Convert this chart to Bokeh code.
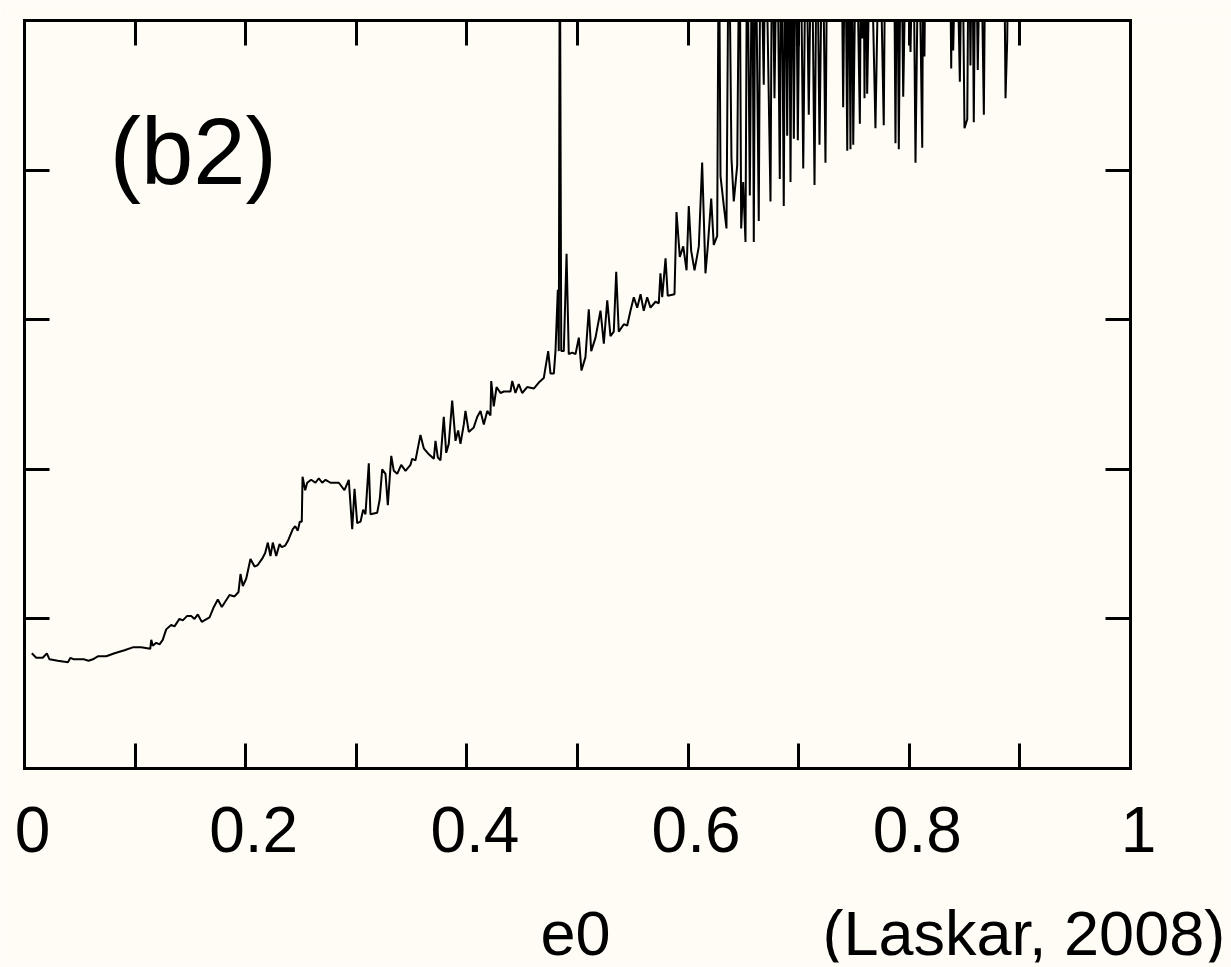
from bokeh.plotting import figure
from bokeh.models import FixedTicker, LinearAxis, Label, CustomJSTickFormatter, Range1d
from bokeh.core.properties import value
from bokeh.embed import file_html
from bokeh.resources import INLINE

# ---- data (values above 5 lie beyond the top of the frame) ----
e0 = [
    0.0066, 0.0106, 0.0165, 0.0202, 0.0226, 0.0301, 0.0392, 0.0416, 0.0446, 0.0497,
    0.0536, 0.0579, 0.0618, 0.0663, 0.0739, 0.0814, 0.0904, 0.0979, 0.1055, 0.1137,
    0.1146, 0.1160, 0.1191, 0.1221, 0.1250, 0.1281, 0.1326, 0.1356, 0.1401, 0.1431,
    0.1471, 0.1507, 0.1537, 0.1567, 0.1603, 0.1673, 0.1712, 0.1748, 0.1784, 0.1854,
    0.1899, 0.1935, 0.1953, 0.1974, 0.2005, 0.2043, 0.2080, 0.2109, 0.2155, 0.2176,
    0.2200, 0.2224, 0.2245, 0.2276, 0.2306, 0.2326, 0.2357, 0.2381, 0.2426, 0.2448,
    0.2471, 0.2489, 0.2507, 0.2514, 0.2538, 0.2556, 0.2592, 0.2631, 0.2661, 0.2692,
    0.2722, 0.2767, 0.2842, 0.2893, 0.2932, 0.2963, 0.2984, 0.3008, 0.3038, 0.3062,
    0.3083, 0.3113, 0.3128, 0.3189, 0.3212, 0.3234, 0.3264, 0.3285, 0.3316, 0.3339,
    0.3370, 0.3406, 0.3445, 0.3490, 0.3505, 0.3535, 0.3580, 0.3610, 0.3656, 0.3701,
    0.3716, 0.3737, 0.3761, 0.3791, 0.3813, 0.3836, 0.3867, 0.3897, 0.3921, 0.3942,
    0.3972, 0.3987, 0.4017, 0.4062, 0.4093, 0.4123, 0.4153, 0.4184, 0.4213, 0.4220,
    0.4243, 0.4268, 0.4304, 0.4334, 0.4394, 0.4410, 0.4439, 0.4469, 0.4500, 0.4545,
    0.4605, 0.4650, 0.4695, 0.4735, 0.4756, 0.4786, 0.4801, 0.4822, 0.4831, 0.4840,
    0.4853, 0.4876, 0.4901, 0.4921, 0.4952, 0.4982, 0.5012, 0.5036, 0.5072, 0.5102,
    0.5124, 0.5163, 0.5208, 0.5238, 0.5269, 0.5298, 0.5328, 0.5350, 0.5373, 0.5419,
    0.5449, 0.5479, 0.5509, 0.5540, 0.5570, 0.5599, 0.5630, 0.5660, 0.5705, 0.5735,
    0.5750, 0.5766, 0.5796, 0.5816, 0.5877, 0.5895, 0.5925, 0.5956, 0.5986, 0.6006,
    0.6028, 0.6058, 0.6097, 0.6127, 0.6157, 0.6178, 0.6209, 0.6232, 0.6263, 0.6278,
    0.6293, 0.6323, 0.6347, 0.6368, 0.6392, 0.6413, 0.6444, 0.6465, 0.6480, 0.6498,
    0.6519, 0.6534, 0.6558, 0.6580, 0.6594, 0.6609, 0.6639, 0.6655, 0.6684, 0.6700,
    0.6745, 0.6760, 0.6781, 0.6805, 0.6829, 0.6844, 0.6865, 0.6880, 0.6896, 0.6911,
    0.6926, 0.6941, 0.6956, 0.6974, 0.6992, 0.7015, 0.7041, 0.7066, 0.7091, 0.7117,
    0.7143, 0.7165, 0.7188, 0.7215, 0.7242, 0.7260, 0.7385, 0.7402, 0.7420, 0.7439,
    0.7453, 0.7468, 0.7480, 0.7493, 0.7520, 0.7553, 0.7565, 0.7575, 0.7585, 0.7595,
    0.7607, 0.7619, 0.7650, 0.7694, 0.7730, 0.7769, 0.7785, 0.7860, 0.7875, 0.7890,
    0.7905, 0.7925, 0.7945, 0.7975, 0.8011, 0.8035, 0.8056, 0.8085, 0.8117, 0.8127,
    0.8137, 0.8150, 0.8365, 0.8379, 0.8388, 0.8397, 0.8425, 0.8457, 0.8478, 0.8499,
    0.8524, 0.8538, 0.8553, 0.8568, 0.8583, 0.8600, 0.8619, 0.8645, 0.8674, 0.8690,
    0.8855, 0.8870, 0.8885, 0.8900,
]
lyap = [
    0.77, 0.74, 0.74, 0.77, 0.73, 0.72, 0.71, 0.74, 0.73, 0.73,
    0.73, 0.72, 0.73, 0.75, 0.75, 0.77, 0.79, 0.81, 0.81, 0.80,
    0.86, 0.82, 0.84, 0.83, 0.86, 0.93, 0.96, 0.95, 1.00, 0.99,
    1.02, 1.02, 1.00, 1.03, 0.98, 1.01, 1.08, 1.13, 1.08, 1.16,
    1.15, 1.18, 1.30, 1.22, 1.27, 1.40, 1.35, 1.36, 1.41, 1.44,
    1.51, 1.42, 1.51, 1.42, 1.50, 1.48, 1.49, 1.52, 1.60, 1.62,
    1.59, 1.65, 1.65, 1.95, 1.86, 1.91, 1.93, 1.91, 1.94, 1.91,
    1.93, 1.91, 1.91, 1.86, 1.93, 1.60, 1.87, 1.64, 1.65, 1.73,
    1.70, 2.04, 1.70, 1.71, 1.80, 2.00, 1.97, 1.76, 2.09, 1.99,
    1.97, 2.03, 1.99, 2.03, 2.07, 2.06, 2.23, 2.14, 2.10, 2.07,
    2.19, 2.08, 2.06, 2.35, 2.11, 2.17, 2.46, 2.19, 2.26, 2.17,
    2.30, 2.39, 2.25, 2.28, 2.35, 2.39, 2.30, 2.39, 2.36, 2.59,
    2.42, 2.55, 2.51, 2.52, 2.52, 2.59, 2.51, 2.57, 2.51, 2.55,
    2.54, 2.58, 2.61, 2.79, 2.64, 2.64, 2.79, 3.20, 2.79, 5.80,
    2.79, 2.79, 3.44, 2.77, 2.78, 2.77, 2.88, 2.66, 2.75, 3.07,
    2.79, 2.88, 3.06, 2.84, 3.13, 2.89, 2.92, 3.32, 2.92, 2.97,
    2.96, 3.06, 3.15, 3.08, 3.17, 3.06, 3.15, 3.08, 3.12, 3.11,
    3.31, 3.15, 3.41, 3.16, 3.17, 3.72, 3.42, 3.49, 3.33, 3.76,
    3.46, 3.33, 3.49, 4.05, 3.31, 3.49, 3.81, 3.50, 3.56, 5.80,
    3.96, 3.76, 3.61, 5.80, 4.08, 3.79, 4.03, 5.80, 3.61, 3.92,
    3.52, 5.80, 3.83, 5.80, 3.52, 5.80, 3.66, 5.80, 4.57, 5.80,
    3.79, 5.80, 4.48, 5.80, 3.94, 5.80, 3.76, 5.80, 4.23, 5.80,
    3.92, 5.80, 4.21, 5.80, 4.20, 5.80, 4.01, 5.80, 4.37, 5.80,
    3.90, 5.80, 4.17, 5.80, 4.05, 5.80, 5.80, 4.42, 5.80, 4.13,
    5.80, 4.14, 5.80, 4.17, 5.80, 4.31, 5.80, 4.88, 5.80, 4.48,
    5.80, 4.51, 5.80, 4.28, 5.80, 4.30, 5.80, 5.80, 4.18, 5.80,
    4.14, 5.80, 4.49, 5.80, 4.79, 5.80, 4.05, 5.80, 4.15, 5.80,
    4.76, 5.80, 5.80, 4.68, 5.80, 4.80, 5.80, 4.59, 5.80, 4.28,
    4.34, 5.80, 4.70, 5.80, 4.32, 5.80, 4.67, 5.80, 4.37, 5.80,
    5.80, 4.48, 4.86, 5.80,
]

x_major = [0, 0.2, 0.4, 0.6, 0.8, 1.0]
x_labels = ["0", "0.2", "0.4", "0.6", "0.8", "1"]
x_minor = [0.1, 0.3, 0.5, 0.7, 0.9]
y_ticks = [1, 2, 3, 4]
x_title = "e0"
panel_tag = "(b2)"
source_note = "(Laskar, 2008)"

BG = "#fffcf6"
FONT = "Liberation Sans"

# The frame covers the box plus the strips round it, so that the texts
# outside the box are not clipped; the box itself is drawn by the axes.
p = figure(width=1231, height=967, output_backend="svg", toolbar_location=None,
           x_range=Range1d(-0.01718, 1.0868), y_range=Range1d(-1.2968, 5),
           min_border_left=5, min_border_right=5, min_border_top=20, min_border_bottom=5,
           background_fill_color=BG, border_fill_color=BG,
           outline_line_color=None)
p.grid.visible = False

p.line(e0, lyap, line_color="black", line_width=2.0)

p.add_layout(LinearAxis(bounds=(0, 1)), "above")
p.add_layout(LinearAxis(fixed_location=1.0, bounds=(0, 5)), "right")
p.below[0].fixed_location = 0.0
p.below[0].bounds = (0, 1)
p.left[0].fixed_location = 0.0
p.left[0].bounds = (0, 5)

blank = CustomJSTickFormatter(code="return ''")
for ax in p.xaxis:
    ax.ticker = FixedTicker(ticks=x_major, minor_ticks=x_minor)
for ax in p.yaxis:
    ax.ticker = FixedTicker(ticks=y_ticks, minor_ticks=[])
for ax in p.xaxis + p.yaxis:
    ax.axis_line_color = "black"
    ax.axis_line_width = 3
    ax.axis_line_cap = "square"
    ax.major_tick_in = 25
    ax.major_tick_out = 0
    ax.minor_tick_in = 25
    ax.minor_tick_out = 0
    ax.major_tick_line_width = 3
    ax.minor_tick_line_width = 3
    ax.major_tick_line_color = "black"
    ax.minor_tick_line_color = "black"
    ax.formatter = blank
    ax.major_label_standoff = 0

# tick labels of the e0 axis
p.text(x=x_major, y=-0.408, text=x_labels, text_font=value(FONT),
       text_font_size="64px", text_color="black",
       text_align="center", text_baseline="middle", x_offset=8)

p.add_layout(Label(x=0.077, y=4.125, text=panel_tag, text_font=FONT,
                   text_font_size="94px", text_color="black",
                   text_baseline="middle", text_align="left"))
p.add_layout(Label(x=0.4982, y=-1.10, text=x_title, text_font=FONT,
                   text_font_size="63px", text_color="black",
                   text_baseline="middle", text_align="center"))
p.add_layout(Label(x=0.7215, y=-1.10, text=source_note, text_font=FONT,
                   text_font_size="63px", text_color="black",
                   text_baseline="middle", text_align="left"))

open("out.html", "w").write(file_html(p, INLINE))
